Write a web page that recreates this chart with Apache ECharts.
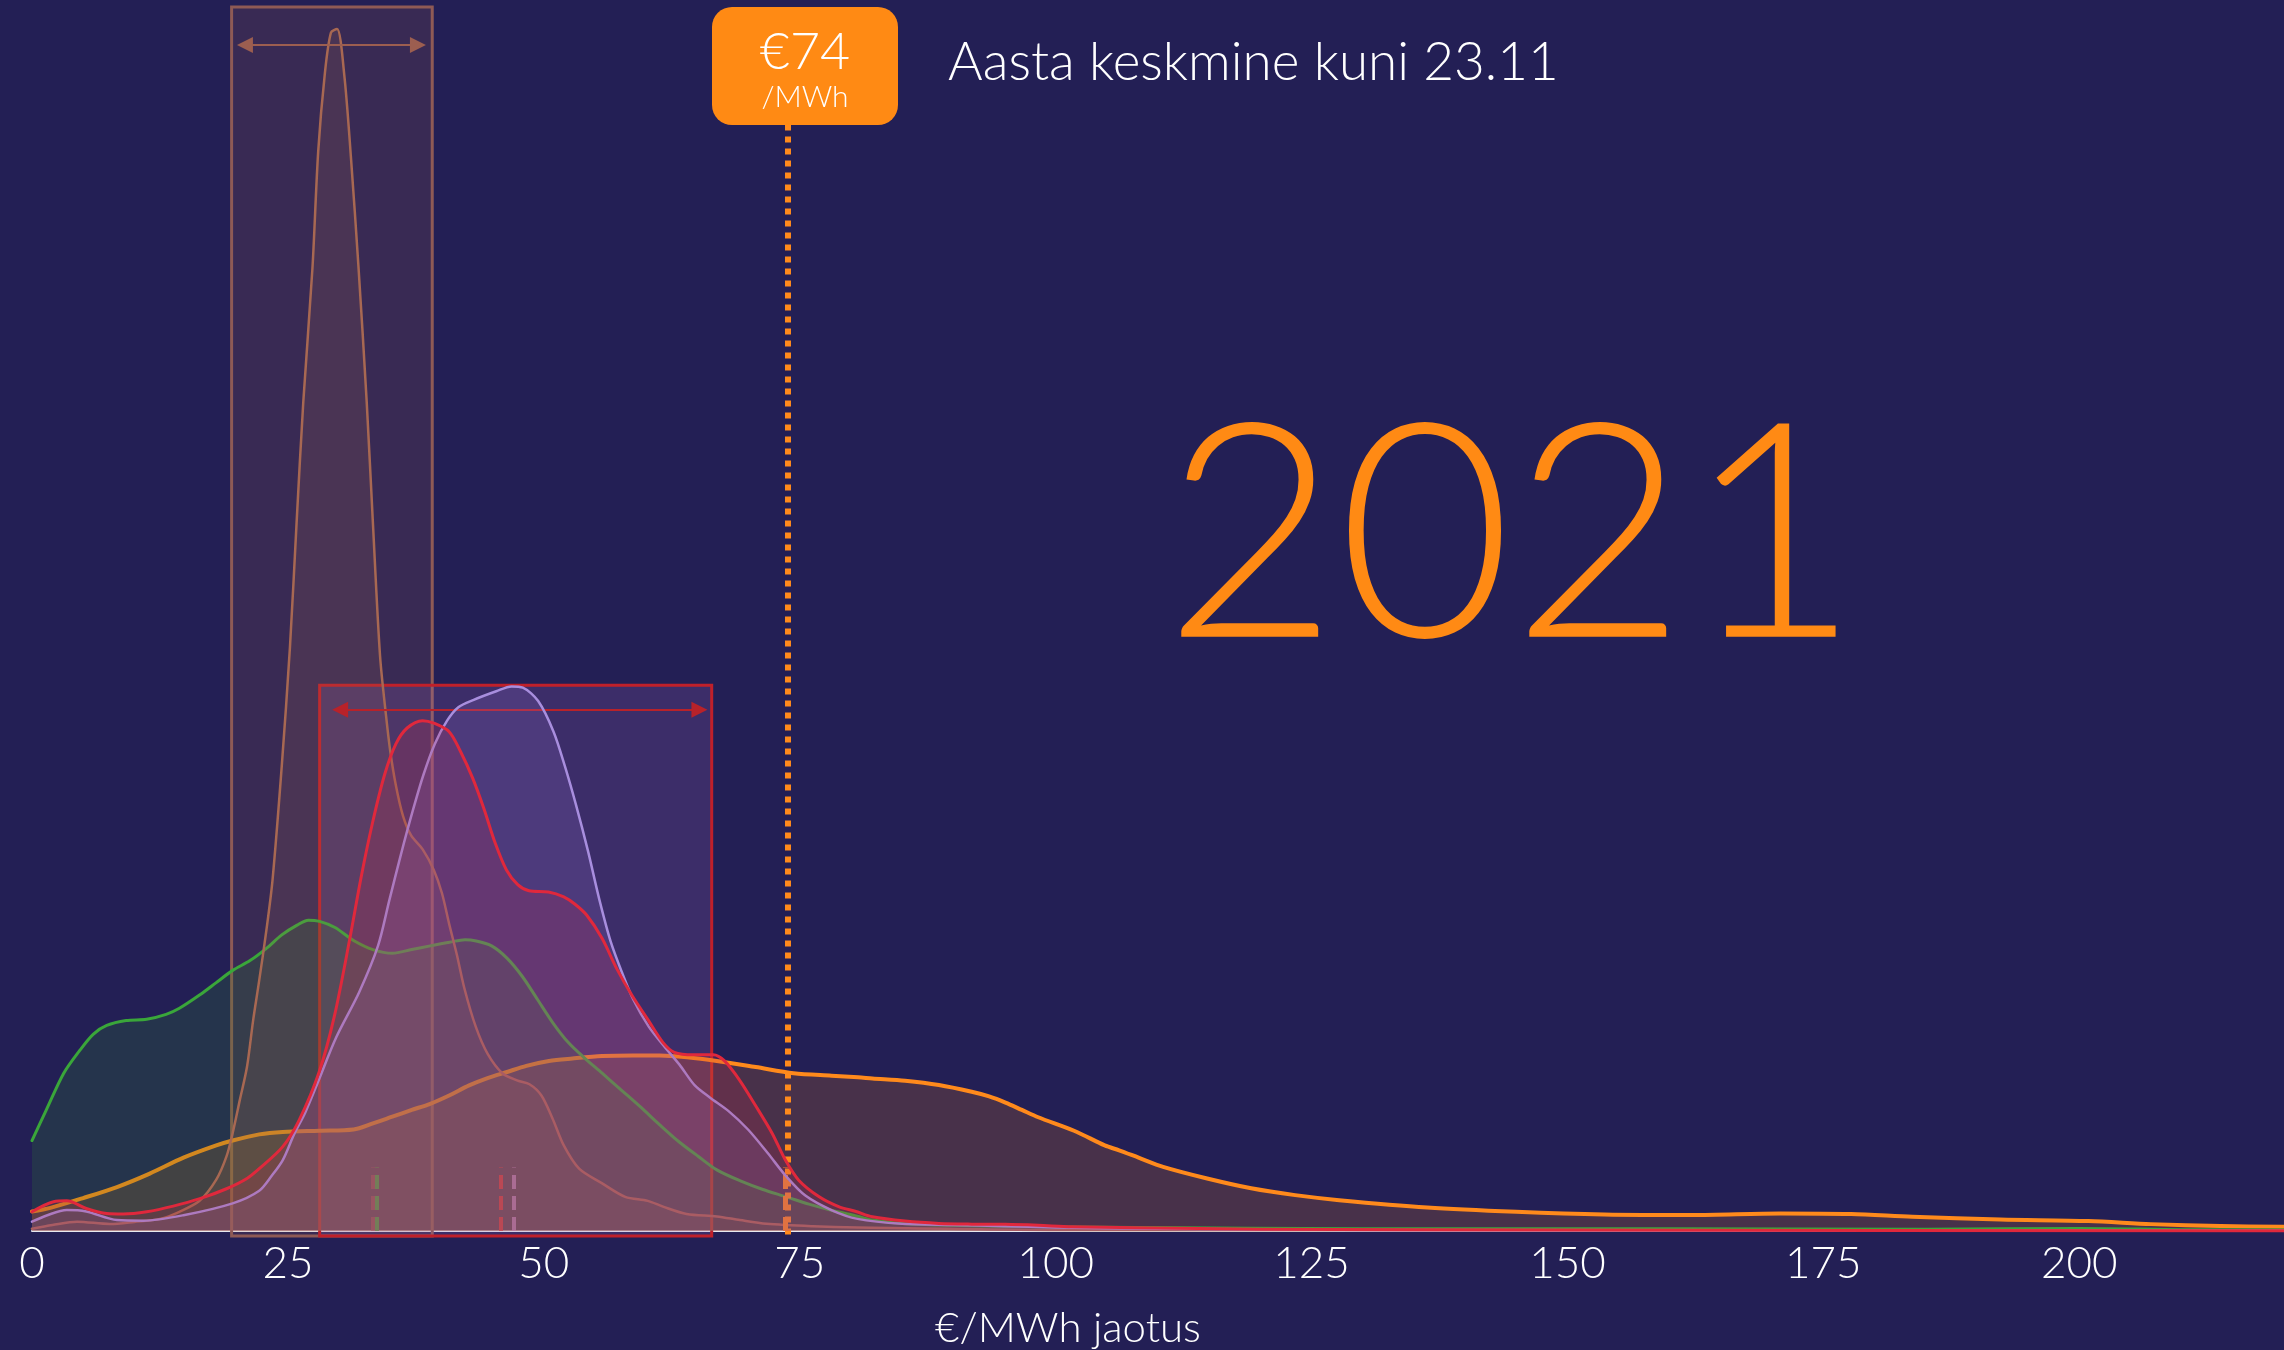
<!DOCTYPE html>
<html>
<head>
<meta charset="utf-8">
<script src="https://cdn.jsdelivr.net/npm/echarts@6/dist/echarts.min.js"></script>
<style>
html, body { margin: 0; padding: 0; background: #231f55; }
#chart { width: 2284px; height: 1350px; }
</style>
</head>
<body>
<div id="chart"></div>
<script>
var myChart = echarts.init(document.getElementById('chart'));

// price distribution curves, [€/MWh, share]
var green = [[0,0.74],[1.4,0.99],[3.1,1.29],[4.7,1.48],[6,1.61],[7.3,1.68],[9.2,1.72],[11.2,1.73],[13.1,1.77],[14.4,1.82],[16.4,1.93],[18,2.03],[19.6,2.13],[21.3,2.21],[22.9,2.31],[24.4,2.42],[25.9,2.5],[27,2.54],[28.1,2.53],[29.6,2.48],[31.5,2.37],[33.3,2.3],[35.2,2.27],[37.1,2.3],[38.9,2.33],[40.8,2.36],[42.3,2.38],[43.4,2.37],[44.9,2.33],[46.4,2.23],[47.9,2.08],[49.4,1.89],[50.9,1.7],[52.4,1.54],[53.9,1.42],[55.7,1.29],[57.6,1.15],[59.5,1.01],[61.3,0.87],[63.2,0.73],[65.1,0.61],[66.9,0.5],[69.2,0.41],[71.4,0.34],[73.7,0.28],[75.9,0.22],[78.1,0.17],[80.7,0.12],[82.1,0.09],[85.3,0.06],[88.6,0.05],[95,0.04],[108,0.03],[130,0.02],[160,0.02],[185,0.015],[200,0.022],[210,0.012],[220,0.01]];

var orange = [[0,0.16],[1.8,0.19],[5,0.27],[8.3,0.36],[11.5,0.47],[14.8,0.6],[18,0.7],[19.6,0.74],[22.2,0.79],[24.5,0.81],[28.1,0.82],[31.4,0.83],[33.3,0.88],[35.2,0.935],[37.1,0.99],[38.9,1.04],[40.8,1.11],[42.7,1.19],[44.5,1.25],[46.4,1.3],[48.3,1.35],[50.5,1.39],[52.8,1.41],[55.7,1.43],[58.7,1.435],[61.3,1.435],[64,1.42],[66.9,1.39],[70.7,1.34],[74.4,1.29],[78.1,1.27],[80.7,1.257],[82.1,1.247],[85.3,1.228],[88.6,1.193],[91.8,1.138],[93.5,1.1],[95.1,1.05],[96.7,0.99],[98.3,0.93],[101.8,0.82],[104.8,0.7],[106.2,0.66],[108.1,0.6],[110.5,0.525],[114.8,0.43],[119.1,0.35],[123.4,0.294],[127.7,0.253],[136.3,0.193],[145,0.158],[153.6,0.136],[162.2,0.131],[170.8,0.144],[177.7,0.139],[183.7,0.117],[192.3,0.095],[200.9,0.082],[207,0.057],[213.8,0.041],[220,0.035]];

var brown = [[0,0.02],[2,0.05],[4.4,0.077],[7.6,0.058],[10,0.075],[12.5,0.1],[14.4,0.158],[16.4,0.25],[18,0.42],[19,0.61],[19.6,0.8],[20.3,1.07],[21,1.34],[21.6,1.72],[22.2,2.05],[22.9,2.46],[23.5,2.87],[24.4,3.8],[25.2,4.77],[25.85,5.79],[26.5,6.77],[27.4,7.87],[27.96,8.82],[28.6,9.45],[29.2,9.79],[29.8,9.82],[30.5,9.45],[31.15,8.78],[31.9,7.87],[32.7,6.77],[33.3,5.79],[34,4.7],[34.6,4.2],[35,3.92],[35.55,3.64],[36.25,3.39],[37.05,3.23],[38.15,3.12],[39.25,2.95],[40.05,2.76],[40.75,2.51],[41.5,2.26],[42.25,1.98],[43.35,1.67],[44.5,1.45],[45.95,1.29],[47.45,1.23],[48.6,1.2],[49.75,1.11],[50.85,0.92],[51.95,0.7],[53.45,0.51],[55.7,0.39],[57.95,0.28],[60.15,0.247],[61.65,0.2],[63.95,0.14],[66.9,0.12],[69.15,0.09],[71.75,0.06],[76.25,0.04],[80.65,0.03],[100,0.01],[220,0.005]];

var purple = [[0,0.077],[1.5,0.13],[3.4,0.172],[5.3,0.16],[8.3,0.09],[10.9,0.085],[14.8,0.13],[19.6,0.227],[22.2,0.33],[23.4,0.45],[24.5,0.58],[25.6,0.79],[26.7,0.97],[27.85,1.2],[29.7,1.58],[31.95,1.95],[33.8,2.33],[34.9,2.7],[36.05,3.08],[37.15,3.42],[38.25,3.73],[39.35,3.98],[40.55,4.17],[41.65,4.28],[43.15,4.34],[45.35,4.41],[46.85,4.45],[47.95,4.44],[49.45,4.33],[50.95,4.08],[52.05,3.8],[53.15,3.48],[54.3,3.11],[55.45,2.7],[56.55,2.36],[57.65,2.11],[58.75,1.89],[60.25,1.67],[61.75,1.51],[63.25,1.36],[64.75,1.19],[66.25,1.09],[68.05,0.98],[69.95,0.83],[71.85,0.64],[73.65,0.45],[75.55,0.29],[78.15,0.17],[80.65,0.1],[85,0.06],[90,0.05],[95,0.04],[100,0.03],[110,0.02],[130,0.01],[220,0.005]];

var red = [[0,0.158],[2.1,0.24],[3.4,0.247],[5.3,0.185],[7.3,0.144],[8.9,0.14],[11.2,0.158],[13.8,0.204],[16.4,0.265],[19,0.346],[21,0.43],[22.2,0.51],[24.5,0.69],[26.1,0.907],[28.05,1.3],[29.55,1.76],[31.05,2.39],[32.15,2.89],[33.25,3.33],[34.45,3.73],[35.55,3.98],[36.65,4.11],[38.15,4.17],[39.25,4.15],[40.75,4.08],[41.85,3.92],[43.05,3.7],[44.15,3.45],[45.25,3.17],[46.35,2.95],[47.45,2.83],[48.55,2.78],[50.45,2.77],[51.95,2.73],[53.05,2.67],[54.2,2.58],[55.7,2.39],[57.15,2.14],[58.65,1.92],[60.15,1.73],[61.65,1.54],[62.75,1.46],[64.65,1.44],[66.55,1.44],[67.65,1.39],[69.15,1.23],[70.65,1.03],[72.3,0.8],[73.6,0.58],[74.9,0.416],[76.9,0.28],[78.8,0.2],[80.5,0.16],[82.1,0.117],[85.3,0.082],[88.6,0.063],[91.8,0.057],[95.1,0.055],[98.3,0.047],[101.6,0.036],[108,0.028],[120,0.015],[150,0.008],[220,0.003]];

// dashed markers near the axis (one per curve)
var meanBrown = 33.3;
var meanGreen = 33.7;
var meanRed = 45.8;
var meanPurple = 47.1;
var meanOrange = 73.6;
var yearAvg = 73.8;

// the two range boxes [from, to, top]
var brownRange = [19.5, 39.1, 10];
var redRange = [28.1, 66.4, 4.46];

var fontName = 'Lato, "Open Sans", sans-serif';

function meanMark(x, color, width) {
    return [{ coord: [x, 0], lineStyle: { color: color, width: width, type: [14, 7] } }, { coord: [x, 0.52] }];
}

function curve(name, data, lineColor, fill, width, z, marks) {
    return {
        name: name,
        type: 'line',
        data: data,
        smooth: 0.3,
        symbol: 'none',
        z: z,
        lineStyle: { color: lineColor, width: width, join: 'round', cap: 'round' },
        areaStyle: { color: fill },
        markLine: {
            silent: true,
            symbol: ['none', 'none'],
            label: { show: false },
            data: marks
        }
    };
}

var option = {
    backgroundColor: '#231f55',
    animation: false,
    grid: { left: 32, right: -3, top: 7, bottom: 114 },
    xAxis: {
        type: 'value',
        min: 0,
        max: 220,
        interval: 25,
        axisLine: { lineStyle: { color: '#e8e8ee', width: 2 } },
        axisTick: { show: false },
        splitLine: { show: false },
        axisLabel: {
            color: '#ffffff',
            fontSize: 44,
            fontFamily: fontName,
            fontWeight: 300,
            margin: 6,
            showMaxLabel: false
        }
    },
    yAxis: {
        type: 'value',
        min: -0.04,
        max: 10,
        show: false
    },
    series: [
        curve('orange', orange, '#ff8a1c', 'rgba(212,118,35,0.30)', 4, 2,
            [meanMark(meanOrange, '#ff8a1c', 5),
             [{ coord: [yearAvg, 9.04], lineStyle: { color: '#ff8a1c', width: 6, type: [6, 6] } }, { coord: [yearAvg, -0.04] }]]),
        curve('green', green, '#3aa63a', 'rgba(48,134,42,0.30)', 3, 3,
            [meanMark(meanGreen, 'rgba(80,170,60,0.85)', 4)]),
        curve('brown', brown, '#a86852', 'rgba(170,112,87,0.22)', 2.5, 4,
            [meanMark(meanBrown, 'rgba(170,100,80,0.6)', 4)]),
        curve('purple', purple, '#a88ede', 'rgba(148,110,205,0.28)', 2.5, 5,
            [meanMark(meanPurple, 'rgba(200,150,190,0.7)', 4)]),
        curve('red', red, '#e0283c', 'rgba(192,49,80,0.30)', 3, 6,
            [meanMark(meanRed, 'rgba(220,70,50,0.8)', 4)]),
        {
            name: 'ranges',
            type: 'line',
            data: [],
            z: 8,
            markArea: {
                silent: true,
                label: { show: false },
                data: [
                    [{ coord: [brownRange[0], -0.04], itemStyle: { color: 'rgba(190,105,80,0.15)', borderColor: '#8e5a55', borderWidth: 3 } },
                     { coord: [brownRange[1], brownRange[2]] }],
                    [{ coord: [redRange[0], -0.04], itemStyle: { color: 'rgba(160,106,185,0.20)', borderColor: '#c0202a', borderWidth: 3 } },
                     { coord: [redRange[1], redRange[2]] }]
                ]
            },
            markLine: {
                silent: true,
                symbol: ['triangle', 'triangle'],
                symbolSize: [16, 16],
                label: { show: false },
                data: [
                    [{ coord: [20.8, 9.69], lineStyle: { color: '#9c5e50', width: 2, type: 'solid' }, itemStyle: { color: '#9c5e50' } }, { coord: [37.7, 9.69] }],
                    [{ coord: [30.1, 4.26], lineStyle: { color: '#b8222a', width: 2, type: 'solid' }, itemStyle: { color: '#b8222a' } }, { coord: [65.2, 4.26] }]
                ]
            }
        }
    ],
    graphic: [
        { type: 'rect', left: 712, top: 7, shape: { width: 186, height: 118, r: 20 }, style: { fill: '#ff8a14' }, z: 10 },
        { type: 'text', x: 805, y: 52, z: 11, style: { text: '€74', fill: '#ffffff', font: '300 52px ' + fontName, textAlign: 'center', textVerticalAlign: 'middle' } },
        { type: 'text', x: 805, y: 97, z: 11, style: { text: '/MWh', fill: '#ffffff', font: '300 30px ' + fontName, textAlign: 'center', textVerticalAlign: 'middle' } },
        { type: 'text', x: 948, y: 63, z: 11, style: { text: 'Aasta keskmine kuni 23.11', fill: '#ffffff', font: '300 53px ' + fontName, textAlign: 'left', textVerticalAlign: 'middle' } },
        { type: 'text', x: 1512, y: 540, z: 11, style: { text: '2021', fill: '#ff8a14', font: '300 300px ' + fontName, textAlign: 'center', textVerticalAlign: 'middle' } },
        { type: 'text', x: 1068, y: 1328, z: 11, style: { text: '€/MWh jaotus', fill: '#ffffff', font: '300 42px ' + fontName, textAlign: 'center', textVerticalAlign: 'middle' } }
    ]
};

myChart.setOption(option);
</script>
</body>
</html>
